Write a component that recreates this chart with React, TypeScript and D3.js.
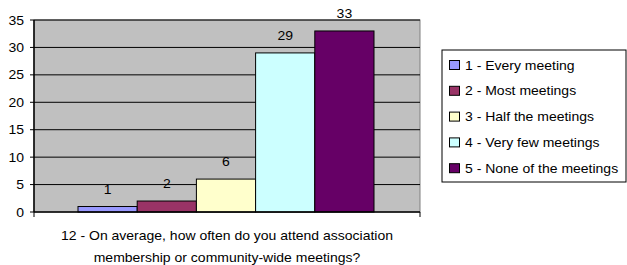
import React from "react";
import * as d3 from "d3";

const categories = ["1 - Every meeting", "2 - Most meetings", "3 - Half the meetings", "4 - Very few meetings", "5 - None of the meetings"];
const values = [1, 2, 6, 29, 33];
const colors = ["#9999ff", "#993366", "#ffffcc", "#ccffff", "#660066"];
const yTicks = [0, 5, 10, 15, 20, 25, 30, 35];
const titleLines = ["12 - On average, how often do you attend association", "membership or community-wide meetings?"];

function T({ x, y, anchor, children }: { x: number; y: number; anchor?: string; children: React.ReactNode }) {
  return (
    <text transform={`translate(${x},${y}) scale(1,0.88)`} textAnchor={anchor || "start"} fontSize={14} fill="#000">{children}</text>
  );
}

export default function App() {
  const W = 627, H = 265;
  const left = 34, right = 420, top = 20, bottom = 212;
  const y = d3.scaleLinear().domain([0, 35]).range([bottom, top]);
  const x = d3.scaleBand().domain(categories).range([78, 374]).paddingInner(0);
  const font = "Liberation Sans, Arial, sans-serif";
  return (
    <svg width={W} height={H} style={{ position: "absolute", left: 0, top: 0 }} fontFamily={font}>
      <rect x={0} y={0} width={W} height={H} fill="#fff" />
      <rect x={left} y={top} width={right - left} height={bottom - top} fill="#c0c0c0" stroke="#808080" strokeWidth={1} />
      {yTicks.filter(t => t > 0).map(t => (
        <line key={t} x1={left} x2={right} y1={y(t)} y2={y(t)} stroke="#000" strokeWidth={1} />
      ))}
      {values.map((v, i) => (
        <rect key={i} x={x(categories[i])!} y={y(v)} width={x.bandwidth()} height={y(0) - y(v)} fill={colors[i]} stroke="#000" strokeWidth={1} />
      ))}
      {values.map((v, i) => (
        <T key={i} x={x(categories[i])! + x.bandwidth() / 2} y={y(v) - 13} anchor="middle">{v}</T>
      ))}
      <line x1={left} x2={left} y1={top} y2={bottom} stroke="#000" strokeWidth={1.5} />
      <line x1={left} x2={right} y1={bottom} y2={bottom} stroke="#000" strokeWidth={1.5} />
      {yTicks.map(t => (
        <g key={t}>
          <line x1={left - 4} x2={left} y1={y(t)} y2={y(t)} stroke="#000" />
          <T x={24} y={y(t) + 4.5} anchor="end">{t}</T>
        </g>
      ))}
      <line x1={left} x2={left} y1={bottom} y2={bottom + 5} stroke="#000" />
      <line x1={right} x2={right} y1={bottom} y2={bottom + 5} stroke="#000" />
      {titleLines.map((l, i) => (
        <T key={i} x={227} y={239.5 + i * 22} anchor="middle">{l}</T>
      ))}
      <rect x={442} y={50} width={184} height={132} fill="#fff" stroke="#000" strokeWidth={1} />
      {categories.map((c, i) => (
        <g key={i}>
          <rect x={449.5} y={60.5 + i * 25.8} width={10} height={9} fill={colors[i]} stroke="#000" strokeWidth={1} />
          <T x={465} y={69.5 + i * 25.8}>{c}</T>
        </g>
      ))}
    </svg>
  );
}
